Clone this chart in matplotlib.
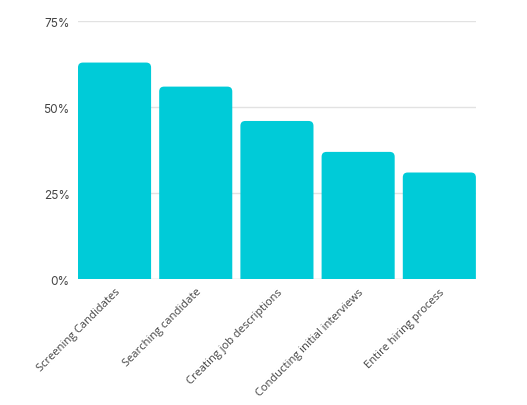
import matplotlib
matplotlib.use("Agg")
import matplotlib.pyplot as plt
from matplotlib.patches import FancyBboxPatch

categories = ["Screening Candidates", "Searching candidate", "Creating job descriptions",
              "Conducting initial interviews", "Entire hiring process"]
values = [63, 56, 46, 37, 31]
yticks = [0, 25, 50, 75]
ytick_labels = ["0%", "25%", "50%", "75%"]

BAR_COLOR = "#00CBD8"
TEXT_COLOR = "#444444"
GRID_COLOR = "#e2e2e2"

fig = plt.figure(figsize=(5.27, 4.06), dpi=100)
ax = fig.add_axes([0.148, 0.3103, 0.755, 0.6347])

bars = ax.bar(range(len(values)), values, width=0.9, color=BAR_COLOR)
# swap plain rectangles for ones with rounded tops (bottom hidden below 0)
for b in bars:
    x, y, w, h = b.get_x(), b.get_y(), b.get_width(), b.get_height()
    b.set_visible(False)
    patch = FancyBboxPatch((x, y - 5), w, h + 5,
                           boxstyle="round,pad=0,rounding_size=0.06",
                           mutation_aspect=23.7,
                           facecolor=BAR_COLOR, edgecolor="none", zorder=2)
    ax.add_patch(patch)

ax.set_xlim(-0.45, len(values) - 0.55)
ax.set_ylim(0, 75)
ax.set_yticks(yticks)
ax.set_yticklabels(ytick_labels, fontsize=8.5, color=TEXT_COLOR, family=["Inter", "DejaVu Sans"])
ax.yaxis.grid(True, color=GRID_COLOR, linewidth=1)
ax.set_axisbelow(True)
ax.tick_params(axis="y", length=0, pad=6)
ax.tick_params(axis="x", length=0, pad=5)
ax.set_xticks(range(len(values)))
ax.set_xticklabels(categories, rotation=45, ha="right", rotation_mode="anchor",
                   fontsize=8, color=TEXT_COLOR, family=["Open Sans", "DejaVu Sans"])
for s in ax.spines.values():
    s.set_visible(False)
ax.axhline(0, color=GRID_COLOR, linewidth=1, zorder=1)

fig.savefig("out.png", dpi=100)
